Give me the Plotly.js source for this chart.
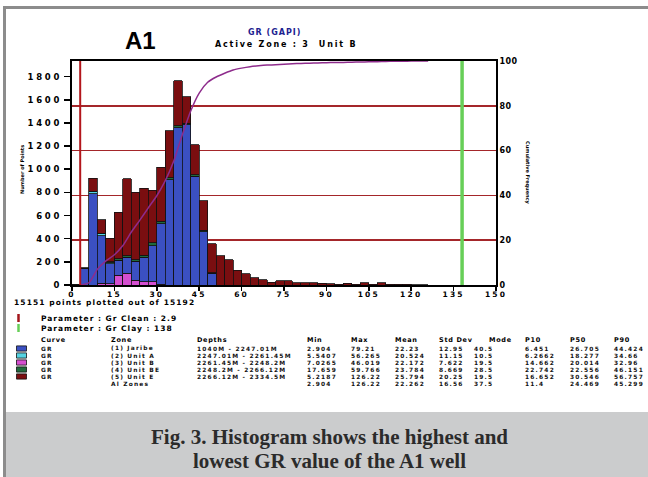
<!DOCTYPE html>
<html><head><meta charset="utf-8">
<script src="https://cdn.plot.ly/plotly-3.0.1.min.js"></script>
<style>
html,body{margin:0;padding:0;background:#fff;overflow:hidden;}
#chart{width:648px;height:477px;}
g.ytick text{letter-spacing:2.8px;}
g.xtick text{letter-spacing:2.2px;}
g.y2tick text{letter-spacing:0.4px;}
</style>
</head><body><div id="chart"></div>
<script>
// ---- data ----
const binCenters = [1.5,4.5,7.5,10.5,13.5,16.5,19.5,22.5,25.5,28.5,31.5,34.5,37.5,40.5,43.5,46.5,49.5,52.5,55.5,58.5,61.5,64.5,67.5,70.5,73.5,76.5,79.5,82.5,85.5,88.5,91.5,94.5,97.5,100.5,103.5,106.5,109.5,112.5,115.5,118.5,121.5,124.5];
const binWidth = 3;
const unitB  = [0,0,0,15,10,86,100,43,30,30,5,0,0,0,0,0,0,0,0,0,0,0,0,0,0,0,0,0,0,0,0,0,0,0,0,0,0,0,0,0,0,0];
const jaribe = [3,145,790,411,175,129,138,162,208,310,525,910,1360,1385,940,460,100,0,0,0,0,0,0,0,0,0,0,0,0,0,0,0,0,0,0,0,0,0,0,0,0,0];
const unitA  = [0,0,14,23,8,0,0,0,0,0,0,0,0,0,0,0,0,0,0,0,0,0,0,0,0,0,0,0,0,0,0,0,0,0,0,0,0,0,0,0,0,0];
const unitBE = [0,0,4,0,8,12,15,12,20,25,20,15,15,12,12,12,8,0,0,0,0,0,0,0,0,0,0,0,0,0,0,0,0,0,0,0,0,0,0,0,0,0];
const unitE  = [0,3,115,115,205,400,664,583,579,452,468,406,389,229,258,256,249,254,220,128,96,62,47,24,35,35,20,18,18,15,10,8,15,8,18,8,18,5,8,8,4,2];

const xTicks = [0,15,30,45,60,75,90,105,120,135,150];
const yTicks = [0,200,400,600,800,1000,1200,1400,1600,1800];
const cumTicks = [0,20,40,60,80,100];
const grClean = 2.9;
const grClay = 138;

const tableCols = ['Curve','Zone','Depths','Min','Max','Mean','Std Dev','Mode','P10','P50','P90'];
const curveNames = ['GR','GR','GR','GR','GR',''];
const zoneLabels = ['(1) Jaribe','(2) Unit A','(3) Unit B','(4) Unit BE','(5) Unit E','Al Zones'];
const depthRanges = ['1040M - 2247.01M','2247.01M - 2261.45M','2261.45M - 2248.2M','2248.2M - 2266.12M','2266.12M - 2334.5M',''];
const statMin  = ['2.904','5.5407','7.0265','17.659','5.2187','2.904'];
const statMax  = ['79.21','56.265','46.019','59.766','126.22','126.22'];
const statMean = ['22.23','20.524','22.172','23.784','25.794','22.262'];
const statStd  = ['12.95','11.15','7.622','8.669','20.25','16.56'];
const statMode = ['40.5','10.5','19.5','28.5','19.5','37.5'];
const statP10  = ['6.451','6.2662','14.662','22.742','16.652','11.4'];
const statP50  = ['26.705','18.277','20.014','22.556','30.546','24.469'];
const statP90  = ['44.424','34.66','32.96','46.151','56.757','45.299'];

// ---- styles ----
const W = 648, H = 477;
const PL = 72, PR = 496, PT = 61, PB = 285;
const X = px => px / W;
const Y = py => 1 - py / H;
const chartFont = 'DejaVu Sans, Verdana, sans-serif';
const colE = '#7a0e10', colB = '#3b50c2', colBm = '#d54fd0', colA = '#55d3e2', colBE = '#1f6a3c';

function barTrace(vals, color, name){
  return {type:'bar', x:binCenters, y:vals, width:binWidth, name:name,
    marker:{color:color, line:{color:'#111', width:0.8}}, hoverinfo:'skip'};
}
const totals = binCenters.map((_,i)=>jaribe[i]+unitA[i]+unitB[i]+unitBE[i]+unitE[i]);
const grand = totals.reduce((a,b)=>a+b,0);
const cumX = [], cumY = [];
let run = 0;
for (let i=0;i<binCenters.length;i++){ run += totals[i]; cumX.push(binCenters[i]+binWidth/2); cumY.push(run/grand*100); }

const traces = [
  barTrace(unitB, colBm, '(3) Unit B'),
  barTrace(jaribe, colB, '(1) Jaribe'),
  barTrace(unitA, colA, '(2) Unit A'),
  barTrace(unitBE, colBE, '(4) Unit BE'),
  barTrace(unitE, colE, '(5) Unit E'),
  {type:'scatter', mode:'lines', x:cumX, y:cumY, yaxis:'y2', line:{color:'#8e2c8c', width:1.5, shape:'spline', smoothing:0.6}, hoverinfo:'skip'}
];

const tickFont = {family:chartFont, size:8, weight:'bold', color:'#000'};
const ann = [];
function T(text, x, y, opt){
  opt = opt || {};
  ann.push({text:text, xref:'paper', yref:'paper', x:X(x), y:Y(y), showarrow:false,
    xanchor:opt.xa||'left', yanchor:'middle',
    font:Object.assign({family:chartFont, size:7, color:'#000'}, opt.font||{}), textangle:opt.angle||0});
}
const ls = (s,n)=>'<span style="letter-spacing:'+n+'px">'+s+'</span>';

T('A1', 140, 40, {xa:'center', font:{family:'Liberation Sans, Arial, sans-serif', size:24, weight:'bold'}});
T(ls('GR (GAPI)',1.0), 274, 32, {xa:'center', font:{size:8, weight:'bold', color:'#1c2290'}});
T(ls('Active Zone : 3  Unit B',1.8), 286, 44, {xa:'center', font:{size:8, weight:'bold'}});
T('Number of Points', 22, 170, {xa:'center', angle:-90, font:{size:5, weight:'bold'}});
T('Cumulative Frequency', 528, 173, {xa:'center', angle:90, font:{size:5, weight:'bold'}});
T(ls('15151 points plotted out of 15192',1.1), 12, 302, {font:{size:7.5, weight:'bold'}});
T(ls('Parameter : Gr Clean : '+grClean,1.0), 39, 318, {font:{size:7.5, weight:'bold'}});
T(ls('Parameter : Gr Clay : '+grClay,1.0), 39, 328, {font:{size:7.5, weight:'bold'}});

const colX = [39,109,195,305,349,393,437,487,523,568,612];
const valX = [39,109,195,305,349,393,437,472,523,568,612];
tableCols.forEach((c,i)=>T(ls(c,0.7), colX[i], 340, {font:{size:6.5, weight:'bold'}}));
const rowY = [348.5,355.5,362.5,369.5,376.5,383.5];
for (let r=0;r<6;r++){
  const cells = [curveNames[r], zoneLabels[r], depthRanges[r], statMin[r], statMax[r], statMean[r], statStd[r], statMode[r], statP10[r], statP50[r], statP90[r]];
  cells.forEach((c,i)=>{ if (c) T(ls(c,1.2), valX[i], rowY[r], {font:{size:5.9, weight:'bold', color:'#111'}}); });
}

T('Fig. 3. Histogram shows the highest and', 329, 437, {xa:'center', font:{family:'Liberation Serif, Times New Roman, serif', size:21, weight:'bold', color:'#2b2b2b'}});
T('lowest GR value of the A1 well', 329, 461, {xa:'center', font:{family:'Liberation Serif, Times New Roman, serif', size:21, weight:'bold', color:'#2b2b2b'}});

const shapes = [
  {type:'rect', xref:'paper', yref:'paper', x0:X(6), x1:X(648), y0:Y(412), y1:Y(477), fillcolor:'#cbcccd', line:{width:0}, layer:'below'},
  {type:'line', xref:'paper', yref:'paper', x0:X(4.5), x1:X(4.5), y0:Y(6), y1:Y(477), line:{color:'#8c8c8c', width:3}},
  {type:'line', xref:'paper', yref:'paper', x0:X(3), x1:X(648), y0:Y(7.5), y1:Y(7.5), line:{color:'#8c8c8c', width:3}},
  {type:'line', xref:'x', yref:'paper', x0:grClean, x1:grClean, y0:Y(PB), y1:Y(PT), line:{color:'#b3161b', width:2}, layer:'above'},
  {type:'line', xref:'x', yref:'paper', x0:grClay, x1:grClay, y0:Y(PB), y1:Y(PT), line:{color:'#67cf58', width:3.5}, layer:'above'},
  {type:'line', xref:'paper', yref:'paper', x0:X(18.5), x1:X(18.5), y0:Y(314), y1:Y(322), line:{color:'#a3161b', width:2.5}},
  {type:'line', xref:'paper', yref:'paper', x0:X(18.5), x1:X(18.5), y0:Y(324), y1:Y(332), line:{color:'#67cf58', width:2.5}}
];
const legCols = [colB, colA, colBm, colBE, colE];
legCols.forEach((c,i)=>shapes.push({type:'rect', xref:'paper', yref:'paper', x0:X(16.5), x1:X(26.5), y0:Y(rowY[i]+2.6), y1:Y(rowY[i]-2.6), fillcolor:c, line:{color:'#111', width:0.8}}));

const layout = {
  width:W, height:H, margin:{l:0,r:0,t:0,b:0}, paper_bgcolor:'#fff', plot_bgcolor:'#fff',
  showlegend:false, barmode:'stack', bargap:0,
  xaxis:{domain:[X(PL),X(PR)], range:[0,150], tickvals:xTicks, ticks:'outside', ticklen:4, tickwidth:1.5, tickcolor:'#000',
    ticklabelstandoff:-3,
    showline:true, linecolor:'#000', linewidth:2, mirror:true, showgrid:false, zeroline:false, tickfont:Object.assign({}, tickFont, {size:7.5}), fixedrange:true},
  yaxis:{domain:[Y(PB),Y(PT)], range:[0,1935], tickvals:yTicks, ticks:'outside', ticklen:6, tickwidth:1.5, tickcolor:'#000',
    showline:true, linecolor:'#000', linewidth:2, showgrid:false, zeroline:false, tickfont:Object.assign({}, tickFont, {size:8.5}), fixedrange:true},
  yaxis2:{overlaying:'y', side:'right', range:[0,100], tickvals:cumTicks, ticks:'', showline:true, linecolor:'#000', linewidth:2,
    showgrid:true, gridcolor:'#a4262a', gridwidth:1.5, zeroline:false, tickfont:tickFont, fixedrange:true},
  annotations:ann, shapes:shapes
};
Plotly.newPlot('chart', traces, layout, {staticPlot:true, displayModeBar:false});
</script>
</body></html>
